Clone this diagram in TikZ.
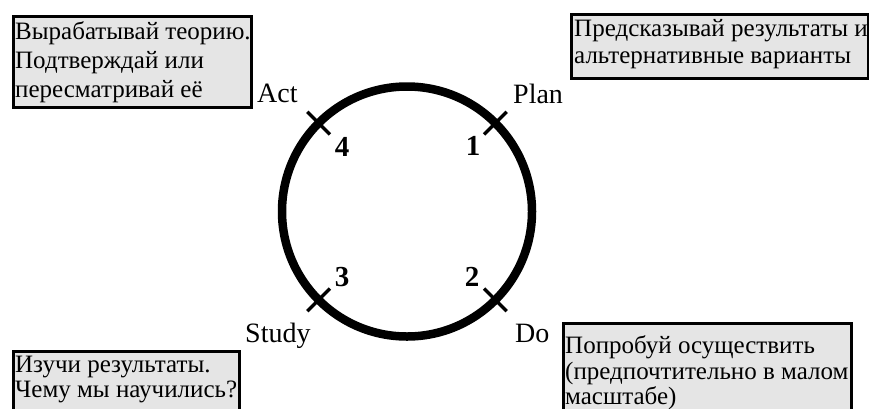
\documentclass[tikz,border=0pt]{standalone}
\usepackage{fontspec}
\setmainfont{Liberation Serif}
\begin{document}
\begin{tikzpicture}[x=1pt,y=-1pt,
  box/.style={draw=black, line width=3pt, fill=gray!20, rectangle, inner sep=0pt, anchor=north west},
  txt/.style={anchor=base west, inner sep=0pt, font=\fontsize{25}{29}\selectfont},
  lbl/.style={anchor=base west, inner sep=0pt, font=\fontsize{28}{32}\selectfont},
  num/.style={inner sep=0pt, font=\fontsize{29}{32}\selectfont\bfseries},
  tickmark/.style={line width=3.5pt}]
\useasboundingbox (0,0) rectangle (869,408);
% boxes
\node[box, minimum width=238pt, minimum height=91pt] (bTL) at (12,15) {};
\node[box, minimum width=297pt, minimum height=64pt] (bTR) at (570,13) {};
\node[box, minimum width=226pt, minimum height=65pt] (bBL) at (12,350) {};
\node[box, minimum width=288pt, minimum height=93pt] (bBR) at (562,322) {};
% box texts
\node[txt] (tl1) at (15,39) {Вырабатывай теорию.};
\node[txt] (tl2) at (15,68) {Подтверждай или};
\node[txt] (tl3) at (15,97) {пересматривай её};
\node[txt] (tr1) at (574,36) {Предсказывай результаты и};
\node[txt] (tr2) at (574,63) {альтернативные варианты};
\node[txt] (bl1) at (15,372) {Изучи результаты.};
\node[txt] (bl2) at (15,397) {Чему мы научились?};
\node[txt] (br1) at (565,353) {Попробуй осуществить};
\node[txt] (br2) at (565,379) {(предпочтительно в малом};
\node[txt] (br3) at (565,404) {масштабе)};
% circle
\node[circle, draw=black, line width=8.5pt, minimum size=250pt, inner sep=0pt] (c) at (407,211.5) {};
% ticks
\coordinate (actA) at (307.3,111.8); \coordinate (actB) at (329.9,134.4);
\coordinate (planA) at (484.1,134.4); \coordinate (planB) at (506.7,111.8);
\coordinate (studyA) at (307.3,311.2); \coordinate (studyB) at (329.9,288.6);
\coordinate (doA) at (484.1,288.6); \coordinate (doB) at (506.7,311.2);
\draw[tickmark] (actA) -- (actB);
\draw[tickmark] (planA) -- (planB);
\draw[tickmark] (studyA) -- (studyB);
\draw[tickmark] (doA) -- (doB);
% labels
\node[lbl] (act) at (257,102) {Act};
\node[lbl] (plan) at (513,103) {Plan};
\node[lbl] (study) at (245,342) {Study};
\node[lbl] (do) at (515,342) {Do};
% numbers
\node[num] (n4) at (342,147) {4};
\node[num] (n1) at (473,146) {1};
\node[num] (n3) at (342,277) {3};
\node[num] (n2) at (472,277) {2};
\end{tikzpicture}
\end{document}
